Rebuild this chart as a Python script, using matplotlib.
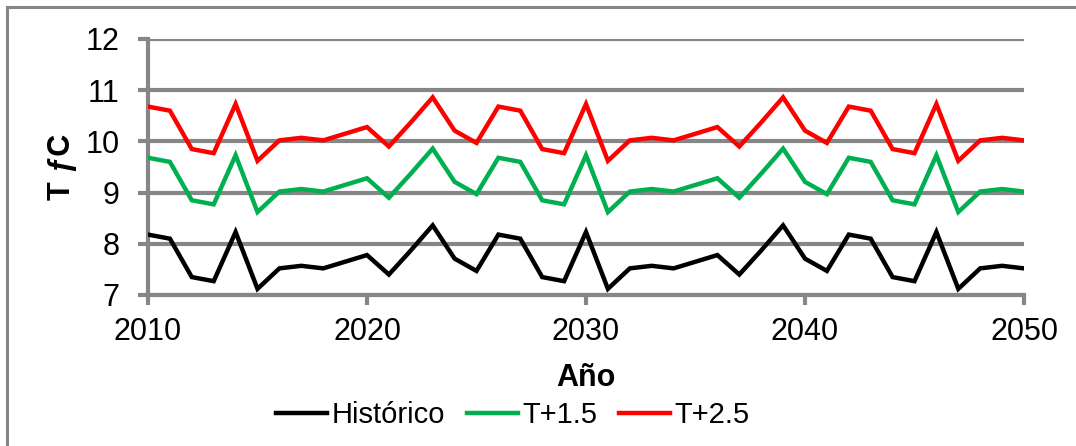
import matplotlib
matplotlib.use("Agg")
import matplotlib.pyplot as plt
from matplotlib.patches import Rectangle

plt.rcParams['font.family'] = ['Liberation Sans', 'DejaVu Sans']

GRID = "#868686"

# ================= DATA =================
years = list(range(2010, 2051))

historico = [8.18, 8.10, 7.35, 7.27, 8.23, 7.12, 7.52, 7.57, 7.52, 7.65,
             7.78, 7.40, 7.87, 8.36, 7.71, 7.47, 8.18, 8.10, 7.35, 7.27,
             8.23, 7.12, 7.52, 7.57, 7.52, 7.65, 7.78, 7.40, 7.87, 8.36,
             7.71, 7.47, 8.18, 8.10, 7.35, 7.27, 8.23, 7.12, 7.52, 7.57,
             7.52]

t_15 = [9.68, 9.60, 8.85, 8.77, 9.73, 8.62, 9.02, 9.07, 9.02, 9.15,
        9.28, 8.90, 9.37, 9.86, 9.21, 8.97, 9.68, 9.60, 8.85, 8.77,
        9.73, 8.62, 9.02, 9.07, 9.02, 9.15, 9.28, 8.90, 9.37, 9.86,
        9.21, 8.97, 9.68, 9.60, 8.85, 8.77, 9.73, 8.62, 9.02, 9.07,
        9.02]

t_25 = [10.68, 10.60, 9.85, 9.77, 10.73, 9.62, 10.02, 10.07, 10.02, 10.15,
        10.28, 9.90, 10.37, 10.86, 10.21, 9.97, 10.68, 10.60, 9.85, 9.77,
        10.73, 9.62, 10.02, 10.07, 10.02, 10.15, 10.28, 9.90, 10.37, 10.86,
        10.21, 9.97, 10.68, 10.60, 9.85, 9.77, 10.73, 9.62, 10.02, 10.07,
        10.02]

series_names = ["Histórico", "T+1.5", "T+2.5"]
series_colors = ["#000000", "#00B050", "#FF0000"]
x_ticks = [2010, 2020, 2030, 2040, 2050]
y_ticks = [7, 8, 9, 10, 11, 12]

# ================= FIGURE =================
fig = plt.figure(figsize=(10.76, 4.46), dpi=100)
W, H = 1076, 446

# chart area frame (runs off the right and bottom edges)
fig.patches.append(Rectangle((7 / W, -0.05), 1.2, 1 - 7 / H + 0.05,
                             transform=fig.transFigure, fill=False,
                             edgecolor=GRID, linewidth=2.2))

ax = fig.add_axes([148 / W, 1 - 295 / H, (1024 - 148) / W, (295 - 39) / H])

for vals, name, col in zip([historico, t_15, t_25], series_names, series_colors):
    ax.plot(years, vals, color=col, linewidth=3.2, label=name,
            solid_joinstyle="miter", zorder=3)

ax.set_xlim(2010, 2050)
ax.set_ylim(7, 12)
ax.set_xticks(x_ticks)
ax.set_yticks(y_ticks)

ax.grid(axis="y", color=GRID, linewidth=3, zorder=1)
ax.set_axisbelow(True)
for s in ["top", "right"]:
    ax.spines[s].set_visible(False)
for s in ["left", "bottom"]:
    ax.spines[s].set_color(GRID)
    ax.spines[s].set_linewidth(3)

ax.tick_params(axis="both", colors=GRID, width=3, length=7.5,
               labelcolor="black", labelsize=22)
ax.tick_params(axis="y", pad=13)
ax.tick_params(axis="x", pad=8)

ax.set_xlabel("Año", fontsize=22, fontweight="bold", labelpad=12)
ax.set_ylabel("T ƒC", fontsize=22, fontweight="bold", labelpad=6)

fig.legend(loc="center", bbox_to_anchor=(513 / W, 1 - 415 / H), ncol=3,
           frameon=False, fontsize=21, handlelength=1.75, handletextpad=0.15,
           columnspacing=0.75)

fig.savefig("out.png", dpi=100)
plt.close(fig)
